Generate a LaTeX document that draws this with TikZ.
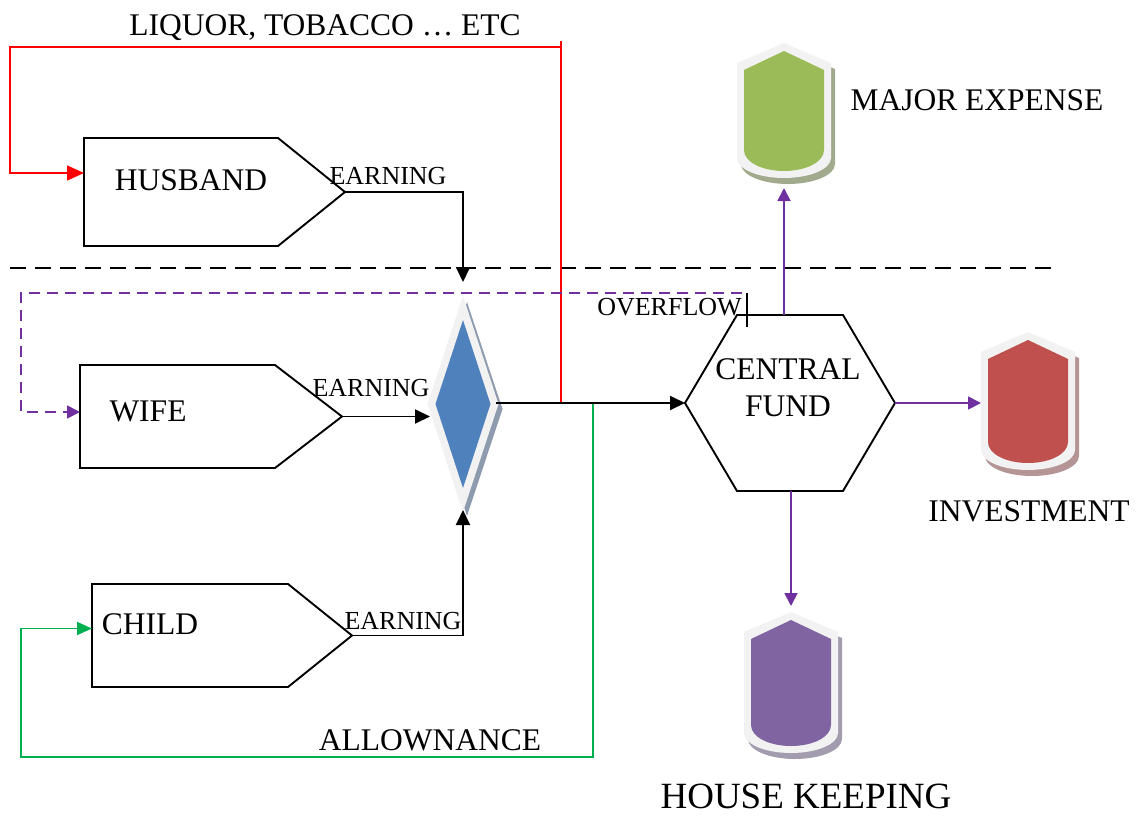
\documentclass[tikz,border=0pt]{standalone}
\usepackage{fontspec}
\setmainfont{Liberation Serif}
\usetikzlibrary{arrows.meta,calc}
\definecolor{redl}{HTML}{FF0000}
\definecolor{purp}{HTML}{7030A0}
\definecolor{grn}{HTML}{00B050}
\definecolor{lightrim}{HTML}{F2F2F2}
\definecolor{dblue}{HTML}{4F81BD}
\definecolor{dshadow}{HTML}{8E9BAE}
\definecolor{tgreen}{HTML}{9BBB59}
\definecolor{tgreensh}{HTML}{A2AA8E}
\definecolor{tred}{HTML}{C0504D}
\definecolor{tredsh}{HTML}{B49494}
\definecolor{tpurp}{HTML}{8064A2}
\definecolor{tpurpsh}{HTML}{A39CAE}
% tank: #1 name, #2 cx, #3 top, #4 height, #5 fill, #6 shadow
\newcommand\tankdraw[6]{%
  \begin{scope}[shift={(#2,#3)}]
    \fill[#6] (-43,26) -- (4,6) -- (51,26) -- (51,{#4-14}) .. controls (51,{#4-3}) and (30,{#4+6}) .. (4,{#4+6}) .. controls (-22,{#4+6}) and (-43,{#4-3}) .. (-43,{#4-14}) -- cycle;
    \fill[lightrim] (-47,20) -- (0,0) -- (47,20) -- (47,{#4-20}) .. controls (47,{#4-9}) and (26,{#4}) .. (0,{#4}) .. controls (-26,{#4}) and (-47,{#4-9}) .. (-47,{#4-20}) -- cycle;
    \fill[#5] (-40,27) -- (0,8) -- (40,27) -- (40,{#4-28}) .. controls (40,{#4-16}) and (22,{#4-7}) .. (0,{#4-7}) .. controls (-22,{#4-7}) and (-40,{#4-16}) .. (-40,{#4-28}) -- cycle;
  \end{scope}
  \node[box, minimum width=94pt, minimum height={#4+10}] (#1) at ({#2},{#3+(#4+10)/2}) {};
}
\tikzset{
  box/.style={draw=none, inner sep=0pt, outer sep=0pt},
  outline/.style={draw=black, line width=1.9pt, line join=miter},
  lbl/.style={font=\fontsize{31.5}{37}\selectfont, inner sep=0pt, anchor=base},
  slbl/.style={font=\fontsize{26}{30}\selectfont, inner sep=0pt, anchor=base},
  blbl/.style={font=\fontsize{37}{42}\selectfont, inner sep=0pt, anchor=base},
  conn/.style={line width=1.9pt, -{Triangle[length=15pt,width=14pt]}},
  redconn/.style={draw=redl, line width=1.5pt, -{Triangle[length=17pt,width=15pt]}},
  grnconn/.style={draw=grn, line width=1.8pt, -{Triangle[length=15pt,width=13pt]}},
  pconn/.style={draw=purp, line width=1.8pt, -{Triangle[length=13pt,width=13pt]}},
}
\begin{document}
\begin{tikzpicture}[x=1pt,y=-1pt]
\useasboundingbox (0,0) rectangle (1141,816);

% ---- source boxes
\node[box, minimum width=261pt, minimum height=108pt] (hus) at (214.5,192) {};
\draw[outline] (hus.north west) -- ($(hus.north east)+(-67,0)$) -- (hus.east) -- ($(hus.south east)+(-67,0)$) -- (hus.south west) -- cycle;
\node[box, minimum width=262pt, minimum height=103pt] (wife) at (211,416.5) {};
\draw[outline] (wife.north west) -- ($(wife.north east)+(-67,0)$) -- (wife.east) -- ($(wife.south east)+(-67,0)$) -- (wife.south west) -- cycle;
\node[box, minimum width=260pt, minimum height=103pt] (child) at (222,635.5) {};
\draw[outline] (child.north west) -- ($(child.north east)+(-64,0)$) -- (child.east) -- ($(child.south east)+(-64,0)$) -- (child.south west) -- cycle;

% ---- mixing diamond
\fill[dshadow] (467,302) -- (502.5,409) -- (467,516) -- (431.5,409) -- cycle;
\fill[lightrim] (463,296) -- (498.5,404) -- (463,512) -- (427.5,404) -- cycle;
\fill[dblue] (463,320) -- (490.5,404) -- (463,488) -- (435.5,404) -- cycle;
\node[box, minimum width=66pt, minimum height=228pt] (mix) at (463,396) {};

% ---- central fund hexagon
\node[box, minimum width=210pt, minimum height=176pt] (hex) at (790,403) {};
\draw[outline] (hex.west) -- ($(hex.north west)+(52,0)$) -- ($(hex.north east)+(-52,0)$) -- (hex.east) -- ($(hex.south east)+(-52,0)$) -- ($(hex.south west)+(52,0)$) -- cycle;

% ---- tanks
\tankdraw{maj}{784}{43}{135}{tgreen}{tgreensh}
\tankdraw{inv}{1028}{332}{138}{tred}{tredsh}
\tankdraw{hk}{791}{612}{141}{tpurp}{tpurpsh}

% ---- separator
\draw[line width=1.7pt, dash pattern=on 16pt off 9pt] (10,268) -- (1055,268);

% ---- connectors
\coordinate (rj) at (561,404);
\coordinate (rtr) at (561,47);
\coordinate (rtl) at (10,47);
\draw[redconn] (rj) -- (rtr) -- (rtl) |- ($(hus.west)+(0,-19)$);
\draw[draw=redl, line width=1.5pt] (rtr) -- ++(0,-6);

\draw[conn] (hus.east) -| (mix.north);
\draw[conn] (wife.east) -- (wife.east -| mix.west);
\draw[conn] (child.east) -| (mix.south);
\draw[conn] (mix.east |- hex.west) -- (hex.west);

\coordinate (gj) at (593,404);
\coordinate (gbr) at (593,757);
\coordinate (gbl) at (21,757);
\draw[grnconn] (gj) -- (gbr) -- (gbl) |- ($(child.west)+(0,-7)$);

\coordinate (ovf) at (747,293);
\coordinate (ovl) at (21,293);
\draw[line width=1.3pt] ($(hex.north west)+(62,12)$) -- (ovf);
\draw[pconn, dash pattern=on 11pt off 7pt] ($(ovf)+(-5,0)$) -- (ovl) |- ($(wife.west)+(0,-4.5)$);

\draw[pconn] (maj.south |- hex.north) -- (maj.south);
\draw[pconn] (hex.east) -- (hex.east -| inv.west);
\draw[pconn] (hk.north |- hex.south) -- ($(hk.north)+(0,-6)$);

% ---- labels
\node[lbl] (tlab) at (325,35.4) {LIQUOR, TOBACCO … ETC};
\node[lbl] (husl) at (191,190.4) {HUSBAND};
\node[lbl] (wifel) at (148,421.4) {WIFE};
\node[lbl] (childl) at (150,634.4) {CHILD};
\node[slbl] (e1) at (388,184.6) {EARNING};
\node[slbl] (e2) at (371,396.6) {EARNING};
\node[slbl] (e3) at (403,629.6) {EARNING};
\node[slbl] (ovfl) at (669.5,315.6) {OVERFLOW};
\node[lbl] (alw) at (430,750.4) {ALLOWNANCE};
\node[lbl, anchor=center, align=center] (cfl) at (788,388) {CENTRAL\\FUND};
\node[lbl] (majl) at (977,110.4) {MAJOR EXPENSE};
\node[lbl] (invl) at (1029,521.4) {INVESTMENT};
\node[blbl] (hkl) at (806,808) {HOUSE KEEPING};
\end{tikzpicture}
\end{document}
